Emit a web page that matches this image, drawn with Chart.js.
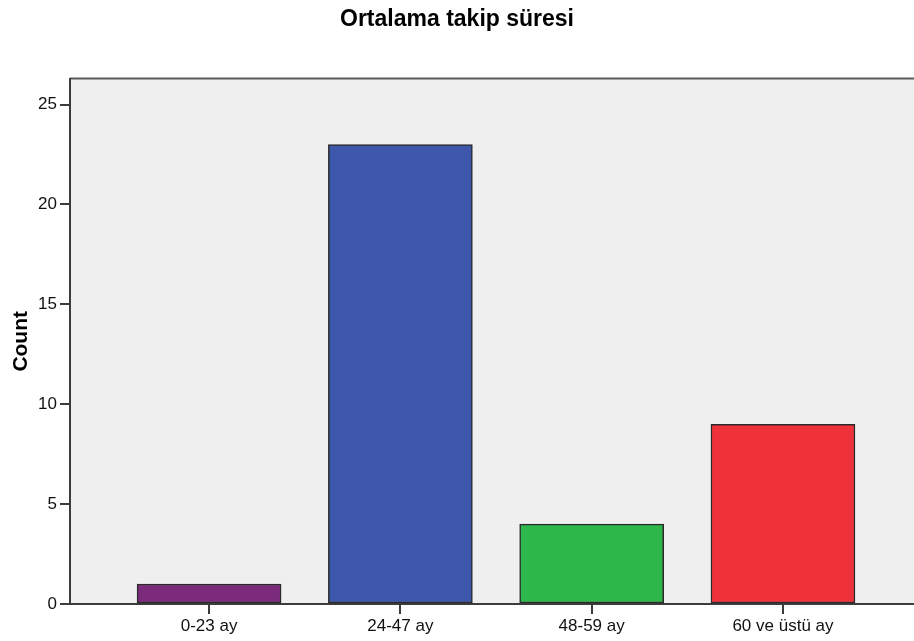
<!DOCTYPE html>
<html>
<head>
<meta charset="utf-8">
<title>Ortalama takip süresi</title>
<script src="https://cdn.jsdelivr.net/npm/chart.js@4/dist/chart.umd.min.js"></script>
<style>
    body { margin: 0; background: #fff; }
    canvas { display: block; }
</style>
</head>
<body>
<canvas id="chart" width="914" height="641"></canvas>
<script>
const categories = ["0-23 ay", "24-47 ay", "48-59 ay", "60 ve üstü ay"];
const counts = [1, 23, 4, 9];
const barColors = ["#7b2a7c", "#3d57ab", "#2eb84c", "#ef323a"];
const yTicks = [0, 5, 10, 15, 20, 25];

const FONT = "'Liberation Sans', Arial, sans-serif";
const AXIS_COLOR = "#3c3c3c";

// plot background + the frame line along the top
const plotFrame = {
    id: "plotFrame",
    beforeDraw(chart) {
        const { ctx, chartArea } = chart;
        ctx.save();
        ctx.fillStyle = "#efefef";
        ctx.fillRect(chartArea.left, chartArea.top, chartArea.right - chartArea.left, chartArea.bottom - chartArea.top);
        ctx.strokeStyle = "#5a5a5a";
        ctx.lineWidth = 2;
        ctx.beginPath();
        ctx.moveTo(chartArea.left, chartArea.top);
        ctx.lineTo(chartArea.right, chartArea.top);
        ctx.stroke();
        ctx.restore();
    }
};

const ctx = document.getElementById("chart");

const chart = new Chart(ctx, {
    type: "bar",
    data: {
        datasets: [{
            label: "Count",
            data: counts.map((c, i) => ({ x: i + 1, y: c })),
            backgroundColor: barColors,
            borderColor: "#2a2a2a",
            borderWidth: 1.5,
            borderSkipped: false,
            barThickness: 144
        }]
    },
    options: {
        responsive: false,
        animation: false,
        layout: { padding: 0 },
        plugins: {
            legend: { display: false },
            tooltip: { enabled: false },
            title: {
                display: true,
                text: "Ortalama takip süresi",
                color: "#000",
                font: { family: FONT, size: 23, weight: "bold", lineHeight: 1.2 },
                padding: { top: 6, bottom: 45 }
            }
        },
        scales: {
            x: {
                type: "linear",
                offset: false,
                min: 0.273,
                max: 4.685,
                afterBuildTicks: (scale) => {
                    scale.ticks = categories.map((c, i) => ({ value: i + 1 }));
                },
                afterFit: (scale) => { scale.height = 37; },
                grid: {
                    offset: false,
                    drawOnChartArea: false,
                    drawTicks: true,
                    tickLength: 10,
                    color: AXIS_COLOR,
                    lineWidth: 2
                },
                border: { display: true, color: AXIS_COLOR, width: 2 },
                ticks: {
                    color: "#111",
                    padding: 2,
                    maxRotation: 0,
                    font: { family: FONT, size: 17 },
                    callback: (v) => categories[v - 1]
                }
            },
            y: {
                min: 0,
                max: 26.3,
                afterBuildTicks: (scale) => {
                    scale.ticks = yTicks.map(v => ({ value: v }));
                },
                afterFit: (scale) => { scale.width = 70; },
                grid: {
                    drawOnChartArea: false,
                    drawTicks: true,
                    tickLength: 10,
                    color: AXIS_COLOR,
                    lineWidth: 2
                },
                border: { display: true, color: AXIS_COLOR, width: 2 },
                ticks: {
                    color: "#111",
                    padding: 3,
                    font: { family: FONT, size: 17 }
                },
                title: {
                    display: true,
                    text: "Count",
                    color: "#000",
                    font: { family: FONT, size: 21, weight: "bold", lineHeight: 1.2 },
                    padding: { top: 9, bottom: 0 }
                }
            }
        }
    },
    plugins: [plotFrame]
});
</script>
</body>
</html>
